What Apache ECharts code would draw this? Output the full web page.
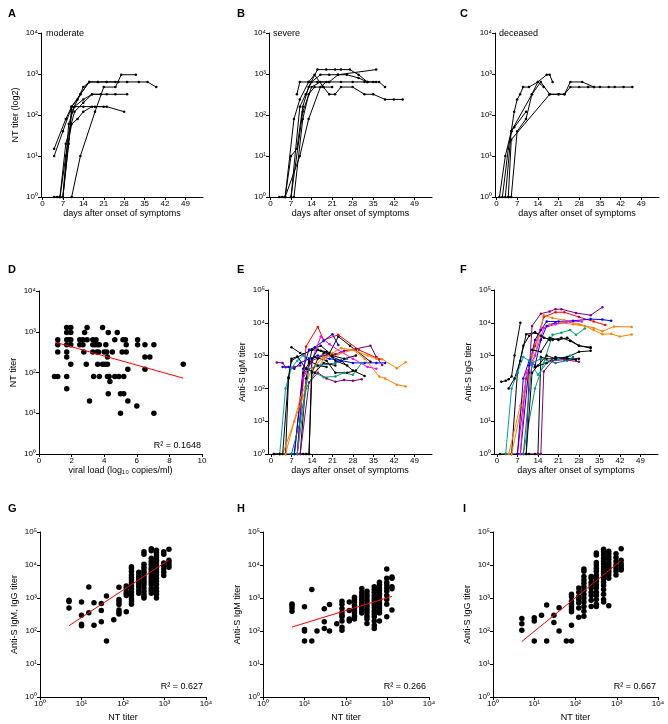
<!DOCTYPE html>
<html><head><meta charset="utf-8">
<script src="https://cdn.jsdelivr.net/npm/echarts@6/dist/echarts.min.js"></script>
<style>html,body{margin:0;padding:0;background:#fff}#c{width:668px;height:724px}</style>
</head><body><div id="c"></div>
<script>
// ---------- tick labels ----------
const dayTicks = [0, 7, 14, 21, 28, 35, 42, 49];
const vlTicks = [0, 2, 4, 6, 8, 10];
const log4Ticks = [1, 10, 100, 1000, 10000];
const log5Ticks = [1, 10, 100, 1000, 10000, 100000];
const supDigits = ['\u2070', '\u00B9', '\u00B2', '\u00B3', '\u2074', '\u2075'];

// ---------- panel A: moderate (day, NT titer) ----------
const A_lines = [
  [[4,15],[8,80],[10,160],[13,320],[16,640],[19,640],[22,640],[26,640],[29,640],[33,640],[36,640],[39,480]],
  [[4,10],[7,40],[10,160],[12,240],[14,480],[16,640],[19,640],[22,640],[25,640]],
  [[4,1],[5,1],[6,1],[7,1],[9,60],[11,160],[14,240],[17,320],[22,320],[25,320],[29,320]],
  [[6,1],[8,10],[10,60],[12,80],[14,120],[17,160],[21,160]],
  [[7,1],[9,20],[10,160],[14,160],[18,160],[22,160],[28,120]],
  [[7,1],[10,120],[13,320],[16,640]],
  [[10,1],[13,10],[18,120],[21,480],[25,480],[27,960],[32,960]],
  [[6,1],[8,20],[11,120],[14,200],[17,320],[20,320]]
];
// ---------- panel B: severe ----------
const B_lines = [
  [[9,320],[10,640],[13,640],[16,640],[20,640],[24,640],[28,640],[32,640],[35,640],[37,640],[39,480]],
  [[3,1],[4,1],[5,1],[7,10],[9,15],[11,160],[13,480],[16,1280],[19,1280],[22,1280],[24,1280],[27,1280],[30,960],[33,640]],
  [[7,1],[10,160],[12,320],[14,640],[17,960],[20,960],[23,960],[26,960],[30,800],[33,640],[36,640]],
  [[5,1],[8,80],[10,240],[13,640],[15,960],[18,480],[20,320],[22,320],[24,480],[28,480],[32,320],[35,320],[39,240],[42,240],[45,240]],
  [[8,1],[11,80],[13,320],[15,480],[18,480],[21,480]],
  [[7,1],[11,120],[14,480],[17,640],[20,640],[23,960],[36,1280]],
  [[5,1],[10,10],[13,80],[17,480],[19,640]]
];
// ---------- panel C: deceased ----------
const C_lines = [
  [[1,1],[3,10],[5,40],[6,120],[7,240],[8,320],[9,480],[11,480],[14,640],[16,480]],
  [[3,1],[5,40],[6,50],[10,120]],
  [[4,1],[5,1],[7,40],[10,80],[12,320],[14,640],[17,960],[18,960],[19,640]],
  [[4,1],[5,25],[18,320],[21,320],[23,320],[25,640],[29,640],[33,480],[35,480],[38,480],[40,480],[43,480],[46,480]],
  [[2,1],[4,15],[5,40],[12,320],[15,640],[18,320],[21,320],[23,320],[25,480],[28,480],[31,480],[33,480]]
];
// ---------- panel D: viral load vs NT titer ----------
const D_vl = [0.95,1.15,1.15,1.15,1.15,1.7,1.7,1.7,1.7,1.7,1.7,1.7,1.7,1.95,1.95,1.95,1.95,1.95,1.85,
  2.5,2.5,2.7,2.7,2.8,2.75,2.95,2.95,2.9,3.1,3.3,3.3,3.3,3.35,3.45,3.5,3.55,3.6,3.6,3.65,3.7,3.7,
  3.9,3.9,4.0,4.05,4.1,4.15,4.2,4.2,4.2,4.3,4.25,4.25,4.35,4.5,4.65,4.65,4.8,4.9,
  5.0,5.0,5.1,5.15,5.2,5.2,5.3,5.35,5.35,5.45,5.45,6.0,6.05,6.05,6.5,6.5,6.5,6.8,7.05,7.05,8.85];
const D_nt = [80,80,640,480,320,1280,960,640,480,320,240,80,40,1280,960,640,480,160,640,
  640,480,640,480,960,320,1280,640,160,20,640,480,320,80,480,640,320,480,160,320,480,80,
  1280,160,320,160,480,320,240,160,80,80,960,30,60,320,640,80,960,80,
  30,10,320,640,80,30,640,480,320,120,20,15,640,480,480,240,120,240,480,10,160];
const D_fit = [[1, 553], [8.85, 72.6]];

// ---------- panel E: anti-S IgM over time ----------
const E_colors = ['#000000','#000000','#000000','#000000','#000000','#ff0000','#0000ff','#0000ff','#ff00ff','#800080','#800080','#800080','#ff8000','#ff8000','#00a0b0','#00a060','#007a8a','#000000','#000000'];
const E_lines = [
  [[1,1],[3,1],[5,1],[7,1],[9,1],[11,1],[13,1],[14,300],[16,800],[18,1200],[21,900],[24,700],[28,350],[32,240]],
  [[5,1],[6,200],[7,700],[9,900],[11,1100],[14,1500],[17,1400],[21,1000],[25,800],[29,1000]],
  [[7,1800],[10,1200],[13,700],[16,500],[19,450]],
  [[10,1],[12,200],[14,1500],[17,2000],[20,1200],[23,3800],[27,2000],[34,650]],
  [[8,1],[11,300],[13,600],[15,900],[19,700],[22,300],[26,300],[29,350]],
  [[9,1],[12,1900],[16,7500],[18,3000],[23,4300],[30,1500],[37,780]],
  [[8,1],[11,400],[13,1500],[15,1800],[18,2800],[21,4500],[23,2100]],
  [[4,450],[6,450],[8,400],[10,600],[13,800],[16,1000],[20,800],[24,700],[28,600],[32,600],[36,600],[39,600]],
  [[9,1],[11,200],[14,700],[17,3800],[20,2200],[24,1300],[28,800],[33,450],[36,400]],
  [[2,620],[4,600],[5,440],[8,450],[10,500]],
  [[9,1],[11,250],[14,700],[18,1000],[22,1100],[25,1400],[29,1600],[34,2000],[36,900],[38,520]],
  [[10,1],[13,150],[16,300],[19,200],[22,160],[25,180],[28,170],[31,190]],
  [[4,1],[8,10],[12,100],[15,300],[18,800],[21,1200],[24,1700],[28,1500],[32,800],[37,230],[39,200],[43,130],[46,115]],
  [[5,1],[10,50],[14,400],[18,900],[23,1100],[28,1500],[33,1000],[36,800],[38,780],[43,410],[46,630]],
  [[3,1],[5,100],[7,420],[9,700],[11,1000],[14,800]],
  [[9,1],[12,100],[15,300],[18,220],[22,230],[25,300],[28,260],[31,600]],
  [[7,1],[10,10],[13,400],[17,500],[22,600],[26,800]],
  [[1,1],[3,1],[4,1],[6,220],[7,800],[9,940],[12,400],[15,300],[18,600],[22,500]],
  [[12,1],[13,1],[14,800],[16,1500],[19,1300],[22,700],[26,500]]
];
// ---------- panel F: anti-S IgG over time ----------
const F_colors = ['#000000','#000000','#000000','#000000','#800080','#800080','#ff0000','#ff8000','#ff8000','#0000ff','#0000ff','#ff00ff','#00a060','#00a0b0','#000000','#000000','#000000','#007a8a'];
const F_lines = [
  [[1,1],[3,1],[5,1],[7,1],[9,1],[11,1],[13,1],[14,1],[15,900],[17,800],[20,800],[24,800],[28,800]],
  [[1.5,160],[3,170],[4,190],[5,230],[6,1000],[8,10000]],
  [[4,100],[6,200],[8,700],[10,4500],[13,5000],[15,4000],[18,3000]],
  [[5,1],[7,300],[9,2000],[11,4000],[13,5200],[16,3500],[19,3000],[22,3500],[25,2800],[28,2000],[32,1800]],
  [[10,1],[11,300],[12,8000],[15,19000],[18,22000],[20,26000],[22,26000],[27,20000],[32,17000],[36,30000]],
  [[14,1],[15,1],[16,330],[19,700],[23,750],[28,650]],
  [[7,1],[10,200],[13,2000],[16,15000],[20,21000],[23,21000],[28,15000],[33,11000],[37,8500]],
  [[5,1],[9,50],[13,1000],[16,17000],[19,14000],[23,12000],[28,9000],[33,7000],[36,5500],[40,7700],[46,7500]],
  [[4,1],[8,30],[12,1000],[15,6000],[18,9000],[22,10000],[26,9000],[30,8000],[33,6000],[36,4500],[39,4600],[42,3800],[46,4400]],
  [[8,1],[11,500],[13,3000],[15,6000],[17,11000],[21,11000],[26,11500],[32,13000],[36,12500],[39,11500]],
  [[7,1],[9,200],[11,700],[13,500],[15,3000],[17,8000],[20,10000]],
  [[8,1],[10,300],[13,1000],[16,7000],[20,9000],[25,10800],[29,11000]],
  [[9,1],[13,100],[16,600],[19,4300],[22,5000],[25,6000],[27,4300],[30,6700]],
  [[3,1],[5,100],[7,300],[9,900],[11,700],[14,260],[17,600],[21,800],[25,1000]],
  [[12,1500],[15,1300],[18,3500],[21,3000],[24,3500],[28,2000],[32,1700]],
  [[10,1],[12,300],[14,500],[17,1000],[20,800],[24,900],[28,1300],[32,1400]],
  [[13,450],[17,600],[20,900],[24,800],[27,750]],
  [[9,1],[12,600],[15,800],[20,600],[24,700],[26,900]]
];

// ---------- panels G, H, I: NT titer vs anti-S titers ----------
const ntLevels = [5,10,15,20,30,40,60,80,120,160,240,320,480,640,960,1280];
const G_vals = [
  [850,780,500],[750,300,160,145],[2150,360],[720,150],[680,420,190],[1150,50],[220],
  [2100,900,770,640,430,370,330],[2300,2000,1550,1350,1200,380],
  [8900,7800,6500,5000,4200,3500,2900,2300,1900,1500,1200,950,780,650],
  [6000,5000,4200,3500,3000,2500,2100,1700,1400],
  [25000,21000,10500,8500,7000,6000,5000,4200,3500,3000,2500,2000,1600,1300,1100,1000],
  [31000,27000,16000,13000,11000,9500,8000,7000,6000,5000,4200,3500,3000,2500,2000,1700,1400],
  [28000,24000,20000,17000,14000,12000,10000,8500,7000,6000,5000,4000,3200,2600,2000,1600,1300,1000],
  [25000,21000,11500,9500,7500,6000,4800],
  [30000,14000,12000,10000,8500]
];
const G_fit = [[5,145],[1250,14000]];
const H_vals = [
  [660,590,500,400],[540,112,100,50],[1800,50],[100],[470,190,120],[630,100],[165],
  [800,650,480,360,300,270,200,130,105],[750,420,230,200],
  [1050,900,750,600,500,420,350,280,230],
  [1950,1500,1200,1000,850,700,600,500,420,350],
  [1600,1300,1100,900,750,600,500,420,350,280,230,170],
  [2200,1800,1500,1200,1000,850,700,600,500,400,330,270,200,150,120],
  [3000,2500,2000,1700,1400,1200,1000,850,700,600,500,420,350,200],
  [7500,4000,3000,2500,2000,1600,1200,900,650,270],
  [4300,4000,2200,1900,430]
];
const H_fit = [[5,132],[1280,1120]];
const I_vals = [
  [240,165,105],[250,200,50],[300],[610,50],[300,180],[510,100],[50],
  [1300,1100,800,650,550,450,380,150,50],[2000,1500,1100,900,700,500,260],
  [7500,6500,4500,3500,2800,2200,1700,1300,1000,750,550,400,280],
  [4500,4000,3000,2500,2000,1500,1200,850,550],
  [23000,20000,12000,10000,8000,6500,5000,4000,3200,2500,2000,1500,1200,900,650,550],
  [30000,25000,20000,16000,13000,11000,9000,7500,6500,5500,4500,3800,3000,2400,1800,1300,900,750],
  [26000,22000,18000,15000,12000,10000,8500,7000,6000,5000,4000,580],
  [22000,17000,13000,10000,8000,6500,5000],
  [31000,14000,11000,9500,8000,7000]
];
const I_fit = [[5,48],[1250,13400]];

// ---------- texts ----------
const panelLetters = ['A','B','C','D','E','F','G','H','I'];
const groupNames = ['moderate','severe','deceased'];
const rsq = ['R\u00B2 = 0.1648','R\u00B2 = 0.627','R\u00B2 = 0.266','R\u00B2 = 0.667'];

// ================= build chart =================
const FONT = '"Liberation Sans", Arial, sans-serif';
const supLabel = v => '10' + supDigits[Math.round(Math.log10(v))];

const grids = [
  {left:41, top:33, width:162, height:164},
  {left:269, top:33, width:163, height:164},
  {left:495, top:33, width:164, height:164},
  {left:39, top:291, width:163, height:163},
  {left:268, top:290, width:164, height:164},
  {left:494, top:290, width:164, height:164},
  {left:40, top:532, width:166, height:165},
  {left:263, top:532, width:166, height:165},
  {left:493, top:532, width:165, height:165}
];

const axLine = {show:true, onZero:false, lineStyle:{color:'#000', width:1}};
const axTick = (vals) => ({show:true, inside:false, length:3, lineStyle:{color:'#000', width:1}, customValues: vals});
const lblStyle = {color:'#000', fontSize:8, fontFamily:FONT, margin:3};
const nameStyle = {color:'#000', fontSize:9, fontFamily:FONT};

function dayAxis(gi, minV, name) {
  return {gridIndex:gi, type:'value', min:minV, max:55, axisLine:axLine, axisTick:axTick(dayTicks),
    axisLabel:Object.assign({customValues:dayTicks}, lblStyle), splitLine:{show:false},
    name:name, nameLocation:'middle', nameGap:10, nameTextStyle:nameStyle};
}
function logAxis(gi, maxV, ticks, name, isX) {
  return {gridIndex:gi, type:'log', logBase:10, min:1, max:maxV, axisLine:axLine, axisTick:axTick(ticks),
    minorTick:{show:false}, minorSplitLine:{show:false},
    axisLabel:Object.assign({customValues:ticks, formatter:supLabel}, lblStyle), splitLine:{show:false},
    name:name, nameLocation:'middle', nameGap: isX ? 16 : 21, nameTextStyle:nameStyle};
}

const xAxes = [
  dayAxis(0, -0.5, 'days after onset of symptoms'),
  dayAxis(1, -0.5, 'days after onset of symptoms'),
  dayAxis(2, -0.5, 'days after onset of symptoms'),
  {gridIndex:3, type:'value', min:0, max:10, axisLine:axLine, axisTick:axTick(vlTicks),
    axisLabel:Object.assign({customValues:vlTicks}, lblStyle), splitLine:{show:false},
    name:'viral load (log\u2081\u2080 copies/ml)', nameLocation:'middle', nameGap:9, nameTextStyle:nameStyle},
  dayAxis(4, -1, 'days after onset of symptoms'),
  dayAxis(5, -1, 'days after onset of symptoms'),
  logAxis(6, 10000, log4Ticks, 'NT titer', true),
  logAxis(7, 10000, log4Ticks, 'NT titer', true),
  logAxis(8, 10000, log4Ticks, 'NT titer', true)
];
const yAxes = [
  logAxis(0, 10000, log4Ticks, 'NT titer (log2)', false),
  logAxis(1, 10000, log4Ticks, '', false),
  logAxis(2, 10000, log4Ticks, '', false),
  logAxis(3, 10000, log4Ticks, 'NT titer', false),
  logAxis(4, 100000, log5Ticks, 'Anti-S IgM titer', false),
  logAxis(5, 100000, log5Ticks, 'Anti-S IgG titer', false),
  logAxis(6, 100000, log5Ticks, 'Anti-S IgM, IgG titer', false),
  logAxis(7, 100000, log5Ticks, 'Anti-S IgM titer', false),
  logAxis(8, 100000, log5Ticks, 'Anti-S IgG titer', false)
];

const series = [];
function addLines(lines, gi, colors) {
  lines.forEach((d, i) => {
    const c = colors ? colors[i] : '#000';
    series.push({type:'line', xAxisIndex:gi, yAxisIndex:gi, data:d, clip:false, silent:true,
      symbol:'circle', symbolSize:2.5, itemStyle:{color:c}, lineStyle:{color:c, width:1}});
  });
}
addLines(A_lines, 0);
addLines(B_lines, 1);
addLines(C_lines, 2);
addLines(E_lines, 4, E_colors);
addLines(F_lines, 5, F_colors);

function addScatter(points, gi) {
  series.push({type:'scatter', xAxisIndex:gi, yAxisIndex:gi, data:points, clip:false, silent:true,
    symbol:'circle', symbolSize:5.5, itemStyle:{color:'#000', opacity:1}});
}
function addFit(points, gi) {
  series.push({type:'line', xAxisIndex:gi, yAxisIndex:gi, data:points, silent:true,
    symbol:'none', lineStyle:{color:'#ff0000', width:1}});
}
addScatter(D_vl.map((x, i) => [x, D_nt[i]]), 3);
addFit(D_fit, 3);
function colPoints(vals) {
  const pts = [];
  vals.forEach((col, i) => col.forEach(v => pts.push([ntLevels[i], v])));
  return pts;
}
addScatter(colPoints(G_vals), 6); addFit(G_fit, 6);
addScatter(colPoints(H_vals), 7); addFit(H_fit, 7);
addScatter(colPoints(I_vals), 8); addFit(I_fit, 8);

// graphic texts
const letterPos = [[8,8],[237,8],[460,8],[8,264],[237,264],[460,264],[8,503],[237,503],[463,503]];
const graphic = [];
panelLetters.forEach((t, i) => graphic.push({type:'text', left:letterPos[i][0], top:letterPos[i][1],
  style:{text:t, font:'bold 11px ' + FONT, fill:'#000'}}));
const groupPos = [[46,29],[273,29],[499,29]];
groupNames.forEach((t, i) => graphic.push({type:'text', left:groupPos[i][0], top:groupPos[i][1],
  style:{text:t, font:'9px ' + FONT, fill:'#000'}}));
const rsqPos = [[201,441],[203,682],[426,682],[656,682]];
rsq.forEach((t, i) => graphic.push({type:'text', x:rsqPos[i][0], y:rsqPos[i][1],
  style:{text:t, font:'9px ' + FONT, fill:'#000', textAlign:'right'}}));

const chart = echarts.init(document.getElementById('c'), null, {renderer:'canvas'});
chart.setOption({animation:false, backgroundColor:'#fff', grid:grids, xAxis:xAxes, yAxis:yAxes, series:series, graphic:graphic});
</script></body></html>
